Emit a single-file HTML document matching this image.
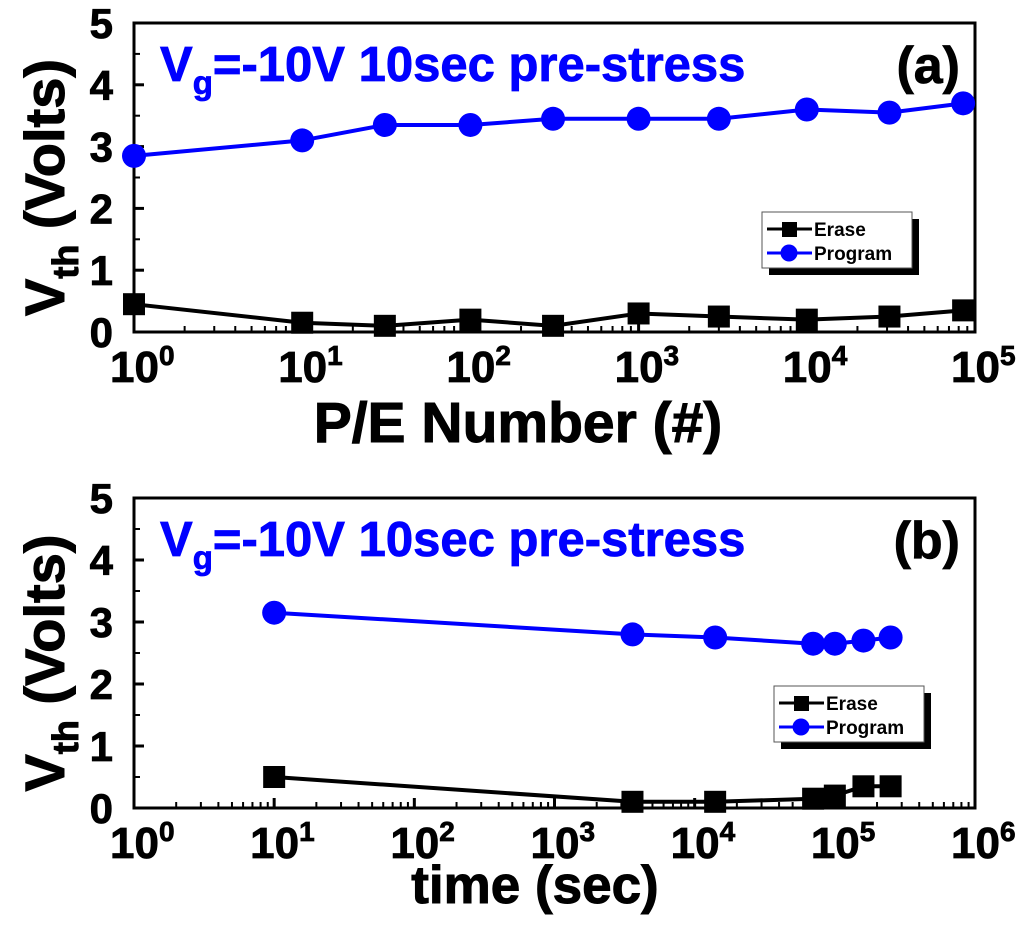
<!DOCTYPE html>
<html><head><meta charset="utf-8"><style>
html,body{margin:0;padding:0;background:#fff;}
svg{display:block;font-family:"Liberation Sans",Arial,sans-serif;font-weight:bold;}
</style></head><body>
<svg id="c" width="1024" height="948" viewBox="0 0 1024 948"></svg>
<script>
const aX=[1,10,31,100,310,1000,3000,10000,31000,85000];
const aProgram=[2.85,3.1,3.35,3.35,3.45,3.45,3.45,3.6,3.55,3.7];
const aErase=[0.45,0.15,0.1,0.2,0.1,0.3,0.25,0.2,0.25,0.35];
const bX=[10,3600,14000,70000,100000,160000,250000];
const bProgram=[3.15,2.8,2.75,2.65,2.65,2.7,2.75];
const bErase=[0.5,0.1,0.1,0.15,0.2,0.35,0.35];
const yTicks=[0,1,2,3,4,5];
const NS="http://www.w3.org/2000/svg";
const svg=document.getElementById('c');
function mk(t,a,p){const e=document.createElementNS(NS,t);for(const k in a)e.setAttribute(k,a[k]);(p||svg).appendChild(e);return e;}
function panel(o){
  const g=mk('g',{});
  
  
  const L=134,R=975,T=o.top,B=o.bot;
  const sx=v=>L+(Math.log10(v)-o.x0)/(o.x1-o.x0)*(R-L);
  const sy=v=>B-v/5*(B-T);
  for(let d=o.x0;d<=o.x1;d++){
    mk('line',{x1:sx(10**d),x2:sx(10**d),y1:B,y2:B-10,stroke:'#000','stroke-width':3},g);
    if(d<o.x1)for(let m=2;m<10;m++){const x=sx(m*10**d);mk('line',{x1:x,x2:x,y1:B,y2:B-6,stroke:'#000','stroke-width':2},g);}
    const t=mk('text',{x:sx(10**d)-24,y:B+50,'font-size':44,stroke:'#000','stroke-width':0.8},g);
    
    
    t.textContent='10';
    const s=mk('tspan',{dy:-17,'font-size':28},t);s.textContent=d;
  }
  yTicks.forEach(v=>{
    mk('line',{x1:L,x2:L+10,y1:sy(v),y2:sy(v),stroke:'#000','stroke-width':3},g);
    if(v<5)mk('line',{x1:L,x2:L+6,y1:sy(v+0.5),y2:sy(v+0.5),stroke:'#000','stroke-width':2},g);
    const t=mk('text',{x:L-21,y:sy(v)+15,'font-size':42,'text-anchor':'end',stroke:'#000','stroke-width':0.8},g);
    
    
    t.textContent=v;
  });
  mk('rect',{x:L,y:T,width:R-L,height:B-T,fill:'none',stroke:'#000','stroke-width':3},g);
  const ser=(xs,ys,col,sq,nm)=>{
    const sg=mk('g',{},g);
    
    
    mk('polyline',{points:xs.map((x,i)=>sx(x)+','+sy(ys[i])).join(' '),fill:'none',stroke:col,'stroke-width':4},sg);
    xs.forEach((x,i)=>{
      const m=sq?mk('rect',{x:sx(x)-11,y:sy(ys[i])-11,width:22,height:22,fill:col},sg):mk('circle',{cx:sx(x),cy:sy(ys[i]),r:12,fill:col},sg);
      
      
    });
  };
  ser(o.xs,o.er,'#000',true,'erase-series');
  ser(o.xs,o.pr,'#0000ff',false,'program-series');
  const an=mk('text',{x:160,y:T+58,'font-size':49,fill:'#0000ff',stroke:'#0000ff','stroke-width':0.8},g);
  
  
  an.innerHTML='V<tspan dy="13" font-size="33">g</tspan><tspan dy="-13">=-10V 10sec pre-stress</tspan>';
  const pl=mk('text',{x:960,y:T+60,'font-size':52,'text-anchor':'end',stroke:'#000','stroke-width':0.8},g);
  
  
  pl.textContent=o.label;
  const lx=o.lx,ly=o.ly;
  const lg=mk('g',{},g);
  
  
  mk('rect',{x:lx+7,y:ly+7,width:150,height:56,fill:'#000'},lg);
  mk('rect',{x:lx,y:ly,width:150,height:56,fill:'#fff',stroke:'#555','stroke-width':1},lg);
  mk('line',{x1:lx+5,x2:lx+50,y1:ly+17,y2:ly+17,stroke:'#000','stroke-width':3},lg);
  mk('rect',{x:lx+20,y:ly+10,width:15,height:15,fill:'#000'},lg);
  mk('line',{x1:lx+5,x2:lx+50,y1:ly+41,y2:ly+41,stroke:'#0000ff','stroke-width':3},lg);
  mk('circle',{cx:lx+27,cy:ly+41,r:8.5,fill:'#0000ff'},lg);
  const e1=mk('text',{x:lx+52,y:ly+24,'font-size':19},lg);e1.textContent='Erase';
  
  
  const e2=mk('text',{x:lx+52,y:ly+48,'font-size':19},lg);e2.textContent='Program';
  
  
  const yt=mk('text',{x:0,y:0,'font-size':56,'text-anchor':'middle',stroke:'#000','stroke-width':1,transform:`translate(64,${(T+B)/2+10}) rotate(-90)`},g);
  
  
  yt.innerHTML='V<tspan dy="14" font-size="36">th</tspan><tspan dy="-14"> (Volts)</tspan>';
  const xt=mk('text',{x:o.xtx,y:o.xty,'font-size':o.xfs,'text-anchor':'middle',stroke:'#000','stroke-width':1},g);
  
  
  xt.textContent=o.xt;
}
panel({name:'panel-a',top:23,bot:332,x0:0,x1:5,xs:aX,pr:aProgram,er:aErase,label:'(a)',lx:762,ly:212,xt:'P/E Number (#)',xtx:518,xty:442,xfs:57});
panel({name:'panel-b',top:498,bot:808,x0:0,x1:6,xs:bX,pr:bProgram,er:bErase,label:'(b)',lx:774,ly:686,xt:'time (sec)',xtx:535,xty:903,xfs:53});
</script>
</body></html>
